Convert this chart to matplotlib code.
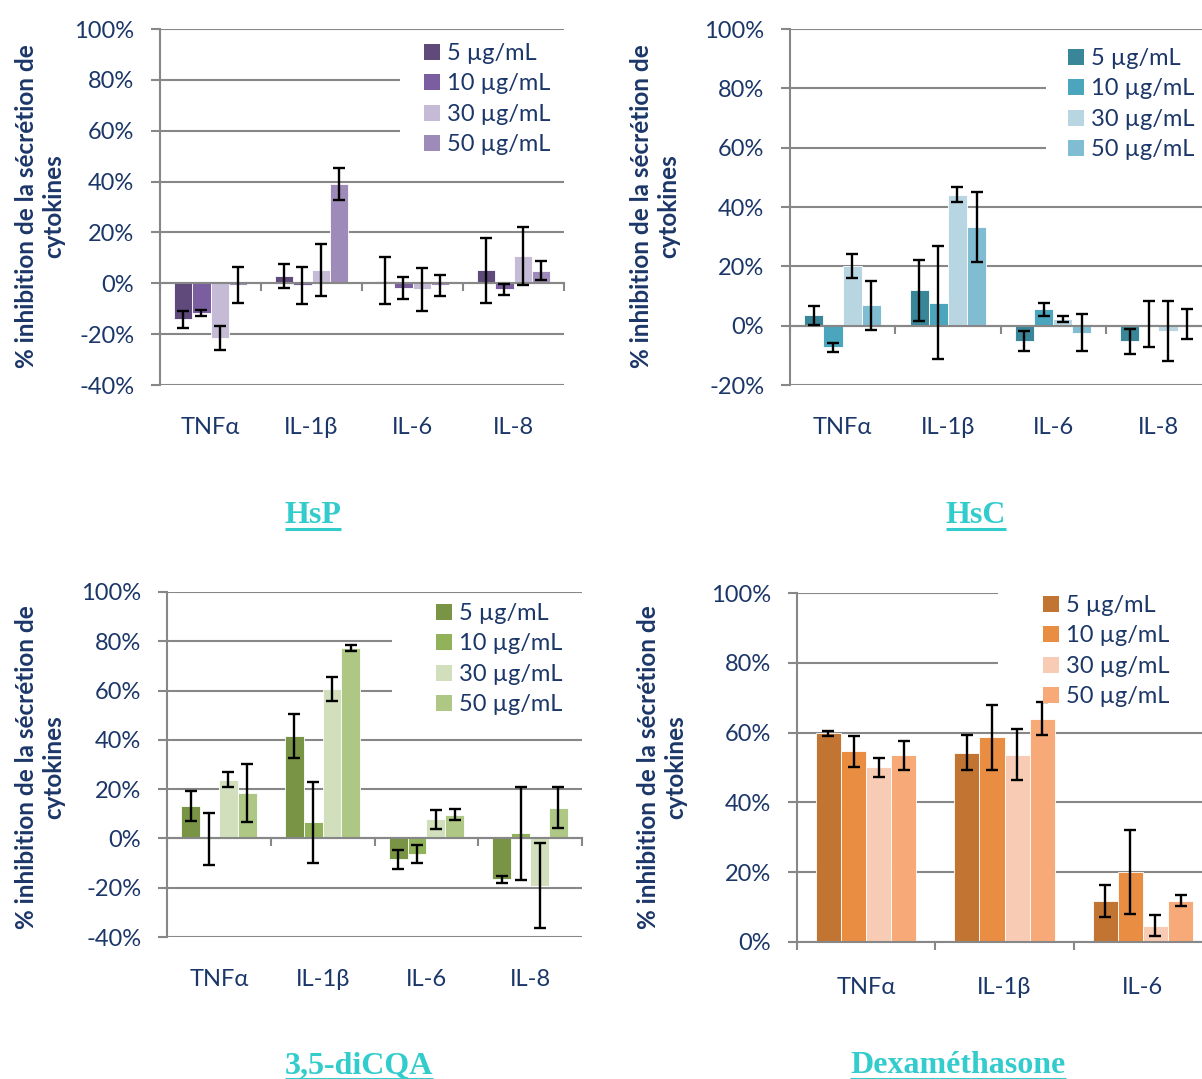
import numpy as np
import matplotlib
matplotlib.use("Agg")
import matplotlib.pyplot as plt
from matplotlib.patches import Rectangle, Patch
from matplotlib.lines import Line2D
from matplotlib.transforms import blended_transform_factory

plt.rcParams['font.family'] = ['Lato', 'DejaVu Sans']

# ---------------- data (values in %) ----------------
cytokines4 = ['TNFα', 'IL-1β', 'IL-6', 'IL-8']
cytokines3 = ['TNFα', 'IL-1β', 'IL-6']
concentrations = ['5 µg/mL', '10 µg/mL', '30 µg/mL', '50 µg/mL']

hsp_5 = [-14.1, 2.9, 1.0, 5.1]
hsp_10 = [-11.7, -0.8, -1.8, -2.4]
hsp_30 = [-21.6, 5.3, -2.4, 10.7]
hsp_50 = [-0.7, 39.2, -0.8, 5.0]
hsp_5_err = [3.3, 4.8, 9.3, 12.9]
hsp_10_err = [1.3, 7.4, 4.3, 2.2]
hsp_30_err = [4.7, 10.3, 8.6, 11.4]
hsp_50_err = [7.1, 6.3, 4.1, 3.6]

hsc_5 = [3.5, 11.9, -5.3, -5.3]
hsc_10 = [-7.3, 7.8, 5.5, 0.6]
hsc_30 = [20.1, 44.2, 2.2, -1.9]
hsc_50 = [6.8, 33.3, -2.4, 0.6]
hsc_5_err = [3.2, 10.4, 3.4, 4.2]
hsc_10_err = [1.6, 18.9, 2.2, 7.7]
hsc_30_err = [4.0, 2.4, 1.0, 10.1]
hsc_50_err = [8.3, 11.8, 6.2, 5.0]

cqa_5 = [13.3, 41.5, -8.4, -16.6]
cqa_10 = [-0.1, 6.5, -6.2, 2.0]
cqa_30 = [23.9, 60.6, 7.7, -19.2]
cqa_50 = [18.5, 77.3, 9.7, 12.5]
cqa_5_err = [6.1, 8.8, 3.9, 1.4]
cqa_10_err = [10.5, 16.6, 3.7, 19.0]
cqa_30_err = [3.0, 4.8, 3.8, 17.3]
cqa_50_err = [11.9, 1.2, 2.3, 8.3]

dex_5 = [59.8, 54.2, 11.7]
dex_10 = [54.6, 58.6, 20.1]
dex_30 = [50.1, 53.7, 4.6]
dex_50 = [53.5, 64.0, 11.8]
dex_5_err = [0.8, 5.0, 4.6]
dex_10_err = [4.4, 9.3, 12.1]
dex_30_err = [2.7, 7.3, 3.0]
dex_50_err = [4.2, 4.7, 1.6]

titles = ['HsP', 'HsC', '3,5-diCQA', 'Dexaméthasone']
ylabel_text = '% inhibition de la sécrétion de\ncytokines'

# ---------------- style ----------------
W, H = 1202, 1079
NAVY = '#1b3668'
GRAY = '#878787'
TEAL = '#33cccc'
FS = 17

fig = plt.figure(figsize=(W / 100, H / 100), dpi=100)


def fx(px):
    return px / W


def fy(py):
    return 1 - py / H


panels = [
    dict(box=(160, 564, 29, 385), ylim=(-40, 100), yticks=range(-40, 101, 20),
         cats=cytokines4, vals=[hsp_5, hsp_10, hsp_30, hsp_50],
         errs=[hsp_5_err, hsp_10_err, hsp_30_err, hsp_50_err],
         colors=['#604a7b', '#7a5e9f', '#c5bbd7', '#9e8bb9'],
         leg=(424, 43), mask=(400, 50, 90), catlab_y=428,
         ylab=(40, 206), title=(313, 523)),
    dict(box=(790, 1211, 29, 385), ylim=(-20, 100), yticks=range(-20, 101, 20),
         cats=cytokines4, vals=[hsc_5, hsc_10, hsc_30, hsc_50],
         errs=[hsc_5_err, hsc_10_err, hsc_30_err, hsc_50_err],
         colors=['#3a8699', '#4aa5bd', '#b8d6e1', '#80bcd2'],
         leg=(1068, 48), mask=(1046, 50, 90), catlab_y=428,
         ylab=(655, 206), title=(976, 523)),
    dict(box=(167, 582, 592, 937), ylim=(-40, 100), yticks=range(-40, 101, 20),
         cats=cytokines4, vals=[cqa_5, cqa_10, cqa_30, cqa_50],
         errs=[cqa_5_err, cqa_10_err, cqa_30_err, cqa_50_err],
         colors=['#799444', '#92b25a', '#d1dfbc', '#afc785'],
         leg=(436, 603), mask=(392, 50, 90), catlab_y=980,
         ylab=(40, 767), title=(359, 1073)),
    dict(box=(797, 1212, 593, 942), ylim=(0, 100), yticks=range(0, 101, 20),
         cats=cytokines3, vals=[dex_5, dex_10, dex_30, dex_50],
         errs=[dex_5_err, dex_10_err, dex_30_err, dex_50_err],
         colors=['#c27533', '#e98d43', '#f8cbb4', '#f7aa77'],
         leg=(1043, 595), mask=(998, 70, 100.6), catlab_y=987,
         ylab=(662, 767), title=(958, 1073)),
]

title_texts = []
for p, title in zip(panels, titles):
    l, r, t, b = p['box']
    ax = fig.add_axes([fx(l), fy(b), (r - l) / W, (b - t) / H])
    ncat = len(p['cats'])
    nser = len(p['vals'])
    bw = 1.0 / (nser + 1.5)
    ax.set_xlim(0, ncat)
    ax.set_ylim(*p['ylim'])

    for j, (v, e, c) in enumerate(zip(p['vals'], p['errs'], p['colors'])):
        x = np.arange(ncat) + 0.5 + (j - (nser - 1) / 2) * bw
        ax.bar(x, v, width=bw, color=c, edgecolor='white', linewidth=0.6,
               zorder=2, label=concentrations[j])
        ax.errorbar(x, v, yerr=e, fmt='none', ecolor='black', elinewidth=1.7,
                    capsize=4.3, capthick=1.7, zorder=4)

    # white area behind the legend hiding gridlines
    mx, my0, my1 = p['mask']
    xd = (mx - l) / (r - l) * ncat
    ax.add_patch(Rectangle((xd, my0), ncat - xd + 0.2, my1 - my0,
                           facecolor='white', edgecolor='none', zorder=1,
                           clip_on=False))

    ax.set_yticks(list(p['yticks']))
    ax.set_yticklabels(['%d%%' % v for v in p['yticks']])
    ax.yaxis.grid(True, color=GRAY, linewidth=1.5)
    ax.set_axisbelow(True)
    ax.set_xticks(np.arange(ncat + 1))
    ax.tick_params(axis='x', direction='out', length=6, width=1.5,
                   color=GRAY, labelbottom=False)
    ax.tick_params(axis='y', direction='out', length=6.5, width=1.5,
                   color=GRAY, labelcolor=NAVY, labelsize=FS, pad=12)
    for s in ['top', 'right']:
        ax.spines[s].set_visible(False)
    ax.spines['bottom'].set_position(('data', 0))
    for s in ['bottom', 'left']:
        ax.spines[s].set_color(GRAY)
        ax.spines[s].set_linewidth(1.5)
    ax.set_facecolor('none')

    trans = blended_transform_factory(ax.transData, fig.transFigure)
    for i, cat in enumerate(p['cats']):
        ax.text(i + 0.5, fy(p['catlab_y']), cat, transform=trans,
                ha='center', va='center', fontsize=FS, color=NAVY)

    handles = [Patch(facecolor=c, edgecolor='none') for c in p['colors']]
    lx, ly = p['leg']
    ax.legend(handles, concentrations, loc='upper left',
              bbox_to_anchor=(fx(lx), fy(ly)), bbox_transform=fig.transFigure,
              frameon=False, fontsize=FS, labelcolor=NAVY,
              handlelength=0.68, handleheight=0.68, handletextpad=0.28,
              labelspacing=0.4, borderpad=0, borderaxespad=0)

    yx, yy = p['ylab']
    fig.text(fx(yx), fy(yy), ylabel_text, rotation=90, ha='center',
             va='center', multialignment='center', fontsize=17.5,
             fontweight='bold', color=NAVY, linespacing=1.25)

    tx, ty = p['title']
    tt = fig.text(fx(tx), fy(ty), title, ha='center', va='baseline',
                  family='Liberation Serif', fontweight='bold', fontsize=23,
                  color=TEAL)
    title_texts.append((tt, ty))

fig.canvas.draw()
renderer = fig.canvas.get_renderer()
for tt, ty in title_texts:
    bb = tt.get_window_extent(renderer)
    fig.add_artist(Line2D([bb.x0 / W, bb.x1 / W], [fy(ty + 5.5)] * 2,
                          transform=fig.transFigure, color=TEAL,
                          linewidth=2.2, solid_capstyle='butt'))

fig.savefig('out.png', dpi=100, facecolor='white')
